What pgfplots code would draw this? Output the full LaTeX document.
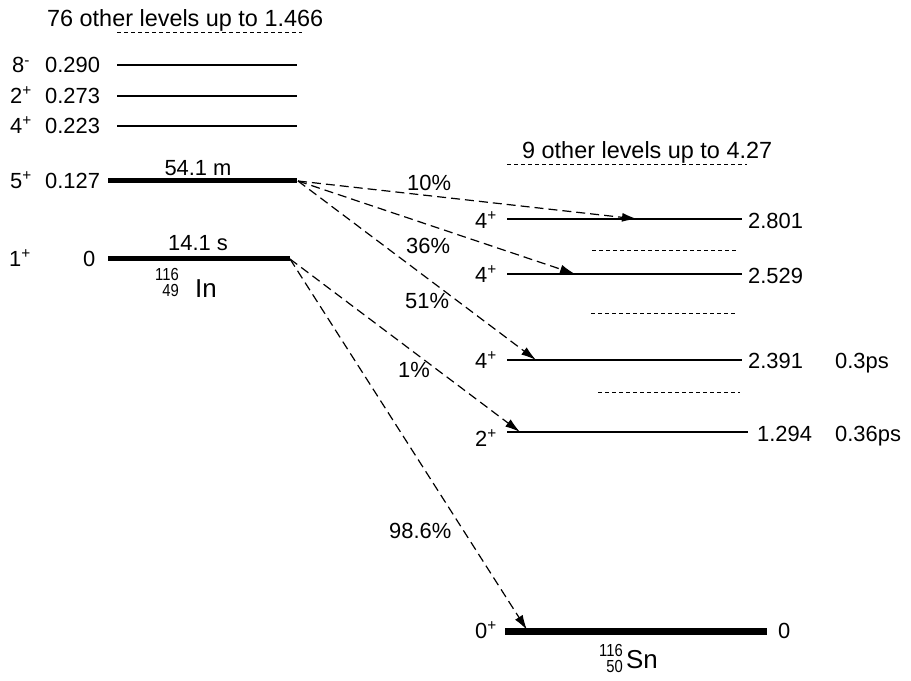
\documentclass[border=0pt]{standalone}
\usepackage{pgfplots}
\pgfplotsset{compat=1.18}
\usepackage{fontspec}
\setmainfont{Liberation Sans}
\newfontfamily\narrowfont[FakeStretch=0.85]{Liberation Sans}
\usetikzlibrary{arrows.meta}
\begin{document}
\begin{tikzpicture}[
  t/.style={font=\fontsize{22}{26}\selectfont, inner sep=0pt},
  w/.style={font=\fontsize{23.5}{26}\selectfont, inner sep=0pt},
  s/.style={font=\narrowfont\fontsize{17.5}{16}\selectfont, inner sep=0pt, align=right},
  b/.style={font=\fontsize{26}{28}\selectfont, inner sep=0pt}]
\begin{axis}[scale only axis, width=911bp, height=681bp,
  xmin=0, xmax=911, ymin=0, ymax=681, y dir=reverse,
  hide axis, clip=false,
  lev/.style={black, line width=1.4bp},
  thick lev/.style={black, line width=5bp},
  dlev/.style={black, line width=1bp, dash pattern=on 4bp off 3bp},
  tr/.style={black, line width=1.2bp, dash pattern=on 9bp off 5bp, -{Latex[length=15bp,width=9bp]}}]
\addplot[draw=none] coordinates {(0,0) (911,681)};
% 116In levels
\addplot[dlev] coordinates {(117,33) (302,33)};
\addplot[lev] coordinates {(117,65) (297,65)};
\addplot[lev] coordinates {(117,96) (297,96)};
\addplot[lev] coordinates {(117,126) (297,126)};
\addplot[thick lev] coordinates {(108,180) (297,180)};
\addplot[thick lev] coordinates {(108,258) (290,258)};
% 116Sn levels
\addplot[dlev] coordinates {(507,164) (747,164)};
\addplot[lev] coordinates {(507,219) (742,219)};
\addplot[dlev] coordinates {(592,250) (737,250)};
\addplot[lev] coordinates {(507,274) (742,274)};
\addplot[dlev] coordinates {(591,313) (735,313)};
\addplot[lev] coordinates {(507,360) (742,360)};
\addplot[dlev] coordinates {(598,392) (740,392)};
\addplot[lev] coordinates {(507,432) (748,432)};
\addplot[black, line width=7bp] coordinates {(505,631) (767,631)};
% transitions
\addplot[tr] coordinates {(298,181) (637,219)};
\addplot[tr] coordinates {(298,181) (575,274)};
\addplot[tr] coordinates {(298,181) (536,360)};
\addplot[tr] coordinates {(290,259) (520,432)};
\addplot[tr] coordinates {(290,259) (527,630)};
% left labels
\node[w, anchor=base west] at (axis cs:47,27) {76 other levels up to 1.466};
\node[t, anchor=base west] at (axis cs:12,73) {8\textsuperscript{-}};
\node[t, anchor=base west] at (axis cs:45,73) {0.290};
\node[t, anchor=base west] at (axis cs:10,103) {2\textsuperscript{+}};
\node[t, anchor=base west] at (axis cs:45,103) {0.273};
\node[t, anchor=base west] at (axis cs:10,133) {4\textsuperscript{+}};
\node[t, anchor=base west] at (axis cs:45,133) {0.223};
\node[t, anchor=base west] at (axis cs:10,188) {5\textsuperscript{+}};
\node[t, anchor=base west] at (axis cs:45,188) {0.127};
\node[t, anchor=base west] at (axis cs:9,266) {1\textsuperscript{+}};
\node[t, anchor=base west] at (axis cs:83,266) {0};
\node[t, anchor=base] at (axis cs:198,175) {54.1 m};
\node[t, anchor=base] at (axis cs:198,250) {14.1 s};
\node[s, anchor=north east] at (axis cs:179,268) {116\\49};
\node[b, anchor=base west] at (axis cs:195,297) {In};
% right labels
\node[w, anchor=base west] at (axis cs:522,158) {9 other levels up to 4.27};
\node[t, anchor=base west] at (axis cs:475,228) {4\textsuperscript{+}};
\node[t, anchor=base west] at (axis cs:475,282) {4\textsuperscript{+}};
\node[t, anchor=base west] at (axis cs:475,368) {4\textsuperscript{+}};
\node[t, anchor=base west] at (axis cs:475,446) {2\textsuperscript{+}};
\node[t, anchor=base west] at (axis cs:475,638) {0\textsuperscript{+}};
\node[t, anchor=base west] at (axis cs:748,228) {2.801};
\node[t, anchor=base west] at (axis cs:748,283) {2.529};
\node[t, anchor=base west] at (axis cs:748,368) {2.391};
\node[t, anchor=base west] at (axis cs:835,368) {0.3ps};
\node[t, anchor=base west] at (axis cs:757,441) {1.294};
\node[t, anchor=base west] at (axis cs:835,441) {0.36ps};
\node[t, anchor=base west] at (axis cs:778,638) {0};
\node[s, anchor=north east] at (axis cs:623,644) {116\\50};
\node[b, anchor=base west] at (axis cs:626,668) {Sn};
% branching
\node[t, anchor=base west] at (axis cs:407,190) {10\%};
\node[t, anchor=base west] at (axis cs:406,253) {36\%};
\node[t, anchor=base west] at (axis cs:405,308) {51\%};
\node[t, anchor=base west] at (axis cs:398,377) {1\%};
\node[t, anchor=base west] at (axis cs:389,538) {98.6\%};
\end{axis}
\end{tikzpicture}
\end{document}
